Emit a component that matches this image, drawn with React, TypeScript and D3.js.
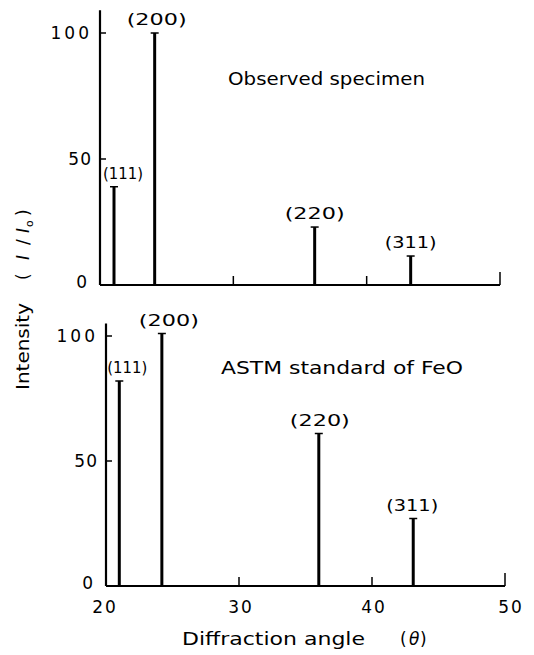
import React from "react";
import * as d3 from "d3";

const hkl = ["(111)", "(200)", "(220)", "(311)"];
const anglesObserved = [21.05, 24.1, 36.1, 43.3];
const anglesAstm = [21.0, 24.2, 36.0, 43.1];
const observed = [39, 100, 23, 11.5];
const astm = [82, 101, 61, 27];
const xTicks = [20, 30, 40, 50];
const yTicks = [0, 50, 100];

const W = 534;
const H = 655;
const FONT = "DejaVu Sans, sans-serif";

const labelW: Record<string, number> = { "(111)": 40, "(200)": 60, "(220)": 60, "(311)": 52 };

type PanelProps = {
  angles: number[];
  values: number[];
  x0: number;
  x1: number;
  yBase: number;
  y100: number;
  axisTopVal: number;
  title: string;
  titleX: number;
  titleY: number;
  titleLen: number;
  showXLabels: boolean;
  labelDx: number[];
};

function Panel(p: PanelProps) {
  const x = d3.scaleLinear().domain([20, 50]).range([p.x0, p.x1]);
  const y = d3.scaleLinear().domain([0, 100]).range([p.yBase, p.y100]);
  return (
    <g>
      <line x1={x(20)} x2={x(20)} y1={y(0)} y2={y(p.axisTopVal)} stroke="#000" strokeWidth={2.2} />
      <line x1={x(20)} x2={x(50)} y1={y(0)} y2={y(0)} stroke="#000" strokeWidth={2.2} />
      {yTicks.filter((t) => t > 0).map((t) => (
        <line key={"yt" + t} x1={x(20)} x2={x(20) + 6} y1={y(t)} y2={y(t)} stroke="#000" strokeWidth={1.5} />
      ))}
      {yTicks.map((t) => (
        <text
          key={"yl" + t}
          x={t === 0 ? x(20) - 12 : x(20) - 8}
          y={y(t) + (t === 0 ? 3 : 6)}
          textAnchor="end"
          fontFamily={FONT}
          fontSize={17}
          letterSpacing={t === 100 ? 3 : 1}
        >
          {t}
        </text>
      ))}
      {xTicks.filter((t) => t > 20).map((t) => (
        <line
          key={"xt" + t}
          x1={x(t)}
          x2={x(t)}
          y1={y(0)}
          y2={y(0) - (t === 50 ? 13 : 9)}
          stroke="#000"
          strokeWidth={1.5}
        />
      ))}
      {p.showXLabels &&
        xTicks.map((t) => (
          <text
            key={"xl" + t}
            x={x(t) + (t === 20 ? -1 : t === 50 ? 6 : 2)}
            y={y(0) + 27}
            textAnchor="middle"
            fontFamily={FONT}
            fontSize={17}
            letterSpacing={2}
          >
            {t}
          </text>
        ))}
      {p.values.map((v, i) => (
        <g key={"pk" + i}>
          <line x1={x(p.angles[i])} x2={x(p.angles[i])} y1={y(0)} y2={y(v)} stroke="#000" strokeWidth={3} />
          <line
            x1={x(p.angles[i]) - 4}
            x2={x(p.angles[i]) + 4}
            y1={y(v)}
            y2={y(v)}
            stroke="#000"
            strokeWidth={1.5}
          />
          <text
            x={x(p.angles[i]) + p.labelDx[i]}
            y={y(v) - 8}
            textAnchor="middle"
            fontFamily={FONT}
            fontSize={16}
            textLength={labelW[hkl[i]]}
            lengthAdjust="spacingAndGlyphs"
          >
            {hkl[i]}
          </text>
        </g>
      ))}
      <text
        x={p.titleX}
        y={p.titleY}
        fontFamily={FONT}
        fontSize={17}
        textLength={p.titleLen}
        lengthAdjust="spacingAndGlyphs"
      >
        {p.title}
      </text>
    </g>
  );
}

export default function App() {
  return (
    <svg
      width={W}
      height={H}
      style={{ position: "absolute", left: 0, top: 0, background: "#fff" }}
    >
      <rect x={0} y={0} width={W} height={H} fill="#fff" />
      <Panel
        angles={anglesObserved}
        values={observed}
        x0={100}
        x1={500}
        yBase={285}
        y100={33}
        axisTopVal={109}
        title="Observed specimen"
        titleX={228}
        titleY={85}
        titleLen={197}
        showXLabels={false}
        labelDx={[9, 2, 0, 0]}
      />
      <Panel
        angles={anglesAstm}
        values={astm}
        x0={106}
        x1={505}
        yBase={586}
        y100={336}
        axisTopVal={105}
        title="ASTM standard of FeO"
        titleX={221}
        titleY={374}
        titleLen={242}
        showXLabels={true}
        labelDx={[8, 7, 1, -1]}
      />
      <g fontFamily={FONT} fontSize={17}>
        <text x={182} y={645} textLength={183} lengthAdjust="spacingAndGlyphs">
          Diffraction angle
        </text>
        <text x={400} y={645}>(</text>
        <text x={409} y={645} fontStyle="italic">θ</text>
        <text x={420} y={645}>)</text>
      </g>
      <g transform="translate(29,390) rotate(-90)" fontFamily={FONT} fontSize={17}>
        <text x={0} y={0} textLength={87} lengthAdjust="spacingAndGlyphs">
          Intensity
        </text>
        <text x={110} y={0}>(</text>
        <text x={130} y={0} fontStyle="italic">I</text>
        <text x={145} y={0}>/</text>
        <text x={157} y={0} fontStyle="italic">I</text>
        <text x={163} y={4} fontSize={11}>o</text>
        <text x={174} y={0}>)</text>
      </g>
    </svg>
  );
}
